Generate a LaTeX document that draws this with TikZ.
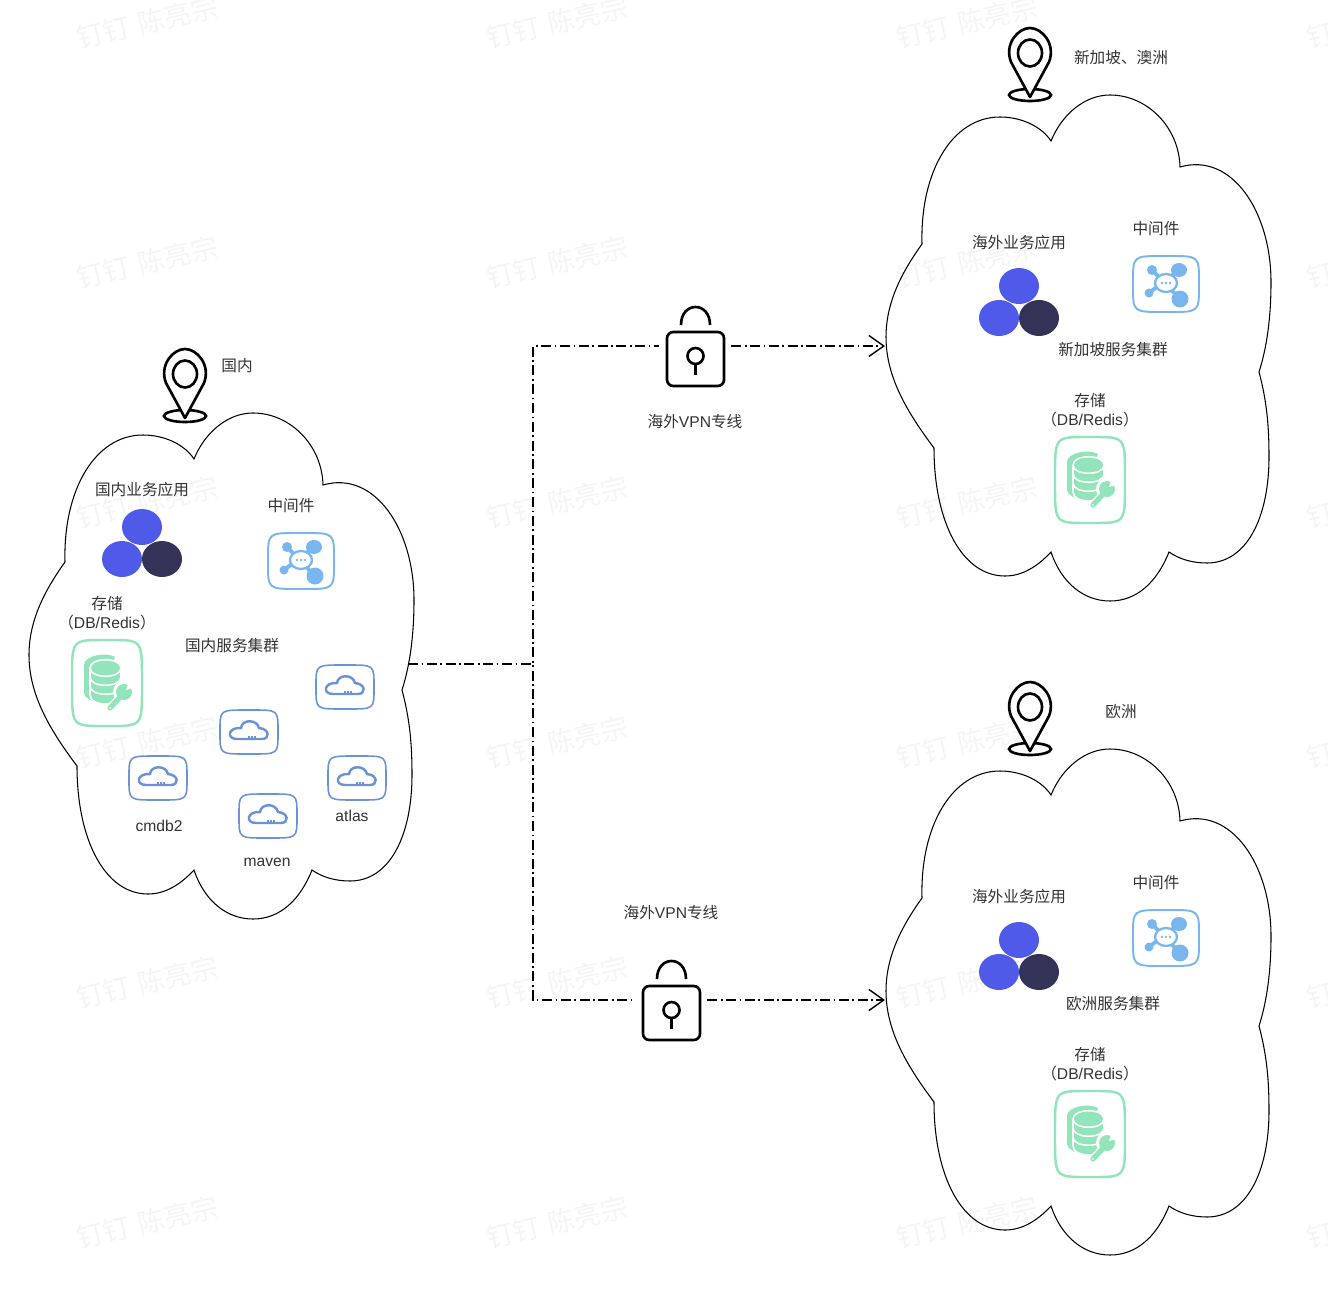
\documentclass[tikz,border=0pt]{standalone}
\usepackage{fontspec}
\setmainfont{Noto Sans CJK SC}
\newfontfamily\lat{Liberation Sans}
\usetikzlibrary{arrows.meta}
\definecolor{cblue}{RGB}{79,91,232}
\definecolor{cnavy}{RGB}{51,51,87}
\definecolor{cmid}{RGB}{122,182,238}
\definecolor{cstore}{RGB}{146,228,186}
\definecolor{cservice}{RGB}{108,146,214}
\definecolor{cmark}{RGB}{244,244,244}
\definecolor{ctext}{RGB}{51,51,51}
\tikzset{
 lbl/.style={text=ctext,inner sep=0pt,align=center,font=\fontsize{8.9}{10.8}\selectfont},
 marktext/.style={text=cmark,inner sep=0pt,rotate=13,font=\fontsize{15.4}{17}\selectfont},
 linkline/.style={line width=0.8pt,dash pattern=on 5.7pt off 2pt on 1pt off 2pt},
 lockbox/.style={minimum width=72*0.567pt,minimum height=30pt,inner sep=0pt},
 pics/softbox/.style n args={2}{code={
   \draw (0,-#2) .. controls ({1.03*#1},-#2) and (#1,{-1.03*#2}) .. (#1,0)
     .. controls (#1,{1.03*#2}) and ({1.03*#1},#2) .. (0,#2)
     .. controls ({-1.03*#1},#2) and (-#1,{1.03*#2}) .. (-#1,0)
     .. controls (-#1,{-1.03*#2}) and ({-1.03*#1},-#2) .. cycle;}},
 pics/pinicon/.style={code={
   \draw[line width=1.5pt] (0,45) ellipse (21 and 6);
   \draw[line width=1.5pt,fill=white,line join=round] (0,47) -- (-19,12)
     .. controls (-26,-6) and (-12,-22) .. (0,-22)
     .. controls (12,-22) and (26,-6) .. (19,12) -- cycle;
   \draw[line width=1.5pt] (0,3) ellipse (12 and 13.5);}},
 pics/lockicon/.style={code={
   \draw[line width=1.5pt,rounded corners=3.6pt] (-28,-14) rectangle (29,40);
   \draw[line width=1.5pt] (-14,-21) .. controls (-14,-45) and (15,-45) .. (15,-21);
   \draw[line width=1.5pt] (0.5,10) circle [radius=8];
   \draw[line width=1.5pt] (0.5,18) -- (0.5,29);}},
 pics/clustericon/.style={code={
   \fill[cblue] (0,0) ellipse (20 and 18);
   \fill[cblue] (-20,32) ellipse (20 and 18);
   \fill[cnavy] (20,32) ellipse (20 and 18);}},
 pics/midicon/.style={code={
   \pic[cmid,line width=1.1pt] {softbox={33}{28}};
   \draw[cmid,line width=2.2pt] (-14,-14) -- (14,15) (13,-14) -- (-17,9);
   \fill[cmid] (13,-14) ellipse (8 and 7) (14,15) ellipse (8.5 and 8.5)
     (-14,-14) ellipse (5 and 5) (-17,9) ellipse (4.5 and 4.5);
   \draw[cmid,line width=1.3pt,fill=white] (0,-1) ellipse (11 and 9);
   \foreach \dotx in {-4,0,4}\fill[cmid] (\dotx,-1) circle [radius=1.4];}},
 pics/storeicon/.style={code={
   \pic[cstore,line width=1.4pt] {softbox={35}{43}};
   % back disc, then the front stack with white seams
   \fill[cstore] (-23,-18) .. controls (-23,-28) and (0,-31) .. (8,-26) -- (-8,20)
     .. controls (-15,18) and (-23,15) .. (-23,10) -- cycle;
   \draw[white,line width=0.9pt,fill=cstore] (-17,-15) .. controls (-17,-26) and (14,-26) .. (14,-15)
     -- (14,12) .. controls (14,24) and (-17,24) .. (-17,12) -- cycle;
   \draw[white,line width=0.9pt] (-17,-15) .. controls (-17,-4) and (14,-4) .. (14,-15);
   \draw[white,line width=0.9pt] (-17,-6) .. controls (-17,5) and (14,5) .. (14,-6);
   \draw[white,line width=0.9pt] (-17,3) .. controls (-17,14) and (14,14) .. (14,3);
   \draw[white,line width=4.5pt,line cap=round] (3,25) -- (15,12);
   \fill[white] (17,9) circle [radius=11];
   \draw[cstore,line width=3pt,line cap=round] (3,25) -- (15,12);
   \fill[cstore] (17,9) circle [radius=8];
   \fill[white] (19,7) -- (22,-2) -- (30,4) -- cycle;
   \fill[white] (3,25) circle [radius=0.9];}},
 pics/serviceicon/.style={code={
   \pic[cservice,line width=0.9pt] {softbox={29}{22}};
   \draw[cservice,line width=1.4pt] (-12,7) -- (13,7)
     .. controls (21,7) and (21,-3) .. (10,-4)
     .. controls (8,-13) and (-7,-13) .. (-8,-4)
     .. controls (-21,-5) and (-23,7) .. (-12,7) -- cycle;
   \foreach \dotx in {0,3,6}\draw[cservice,line width=0.9pt] (\dotx,3.5) -- (\dotx,7);}},
 pics/cloudshape/.style={code={
   \draw[line width=0.6pt,line join=miter] (194,459) .. controls (205,432) and (228,413) .. (253,413)
     .. controls (290,413) and (322,445) .. (323,485)
     .. controls (375,470) and (414,530) .. (414,600)
     .. controls (414,635) and (410,665) .. (402,690)
     .. controls (410,720) and (412,745) .. (412,775)
     .. controls (412,835) and (390,881) .. (350,881)
     .. controls (335,881) and (322,877) .. (312,870)
     .. controls (300,900) and (280,919) .. (253,919)
     .. controls (226,919) and (204,900) .. (194,870)
     .. controls (180,885) and (165,894) .. (148,894)
     .. controls (105,894) and (77,840) .. (77,766)
     .. controls (50,730) and (29,695) .. (29,655)
     .. controls (29,620) and (45,590) .. (65,562)
     .. controls (63,490) and (95,435) .. (143,435)
     .. controls (165,435) and (185,445) .. (194,459) -- cycle;}}
}
\begin{document}
\begin{tikzpicture}[x=0.02cm,y=-0.02cm,>={Straight Barb[length=8.5pt,width=12pt]}]
 \useasboundingbox (0,0) rectangle (1328,1294);
 % ---- faint name marks ----
 \begin{scope}
  \clip (0,0) rectangle (1328,1294);
  \foreach \mx in {147,557,967,1377}
   \foreach \my in {22,262,502,742,982,1222}
    \node[marktext] (mark\mx\my) at (\mx,\my) {钉钉\hspace{5pt}陈亮宗};
 \end{scope}
 % ---- home region ----
 \pic at (0,0) {cloudshape};
 \pic at (185,371) {pinicon};
 \node[lbl] (placeCn) at (237,366) {国内};
 \node[lbl] (appCn) at (142,490) {国内业务应用};
 \pic at (142,527) {clustericon};
 \node[lbl] (midCn) at (291,506) {中间件};
 \pic at (301,561) {midicon};
 \node[lbl] (storeCn) at (107,613) {存储\\（{\lat DB/Redis}）};
 \pic at (107,683) {storeicon};
 \node[lbl] (groupCn) at (232,646) {国内服务集群};
 \foreach \sx/\sy in {345/687,249/732,158/778,357/778,268/816}
  \pic at (\sx,\sy) {serviceicon};
 \node[lbl,font=\lat\fontsize{8.9}{10.8}\selectfont] (svcCmdb) at (159,826) {cmdb2};
 \node[lbl,font=\lat\fontsize{8.9}{10.8}\selectfont] (svcAtlas) at (352,816) {atlas};
 \node[lbl,font=\lat\fontsize{8.9}{10.8}\selectfont] (svcMaven) at (267,862) {maven};
 % ---- overseas regions ----
 \foreach \dy/\place/\group in {0/新加坡、澳洲/新加坡服务集群,654/欧洲/欧洲服务集群} {
  \pic at (857,-318+\dy) {cloudshape};
  \pic at (1030,50+\dy) {pinicon};
  \node[lbl] (place\dy) at (1121,58+\dy) {\place};
  \node[lbl] (app\dy) at (1019,243+\dy) {海外业务应用};
  \pic at (1019,286+\dy) {clustericon};
  \node[lbl] (mid\dy) at (1156,229+\dy) {中间件};
  \pic at (1166,284+\dy) {midicon};
  \node[lbl] (group\dy) at (1113,350+\dy) {\group};
  \node[lbl] (store\dy) at (1090,410+\dy) {存储\\（{\lat DB/Redis}）};
  \pic at (1090,480+\dy) {storeicon};
 }
 % ---- vpn links ----
 \node[lockbox] (lockSg) at (695,346) {};
 \node[lockbox] (lockEu) at (671,1000) {};
 \pic at (lockSg) {lockicon};
 \pic at (lockEu) {lockicon};
 \node[lbl] (vpnSg) at (695,422) {海外{\lat VPN}专线};
 \node[lbl] (vpnEu) at (671,913) {海外{\lat VPN}专线};
 \coordinate (cnEast) at (408,664);
 \coordinate (busMid) at (533,664);
 \coordinate (sgWest) at (885,346);
 \coordinate (euWest) at (885,1000);
 \draw[linkline] (cnEast) -- (busMid) |- (lockSg.west);
 \draw[linkline] (cnEast) -- (busMid) |- (lockEu.west);
 \draw[linkline,->] (lockSg.east) -- (sgWest);
 \draw[linkline,->] (lockEu.east) -- (euWest);
\end{tikzpicture}
\end{document}
